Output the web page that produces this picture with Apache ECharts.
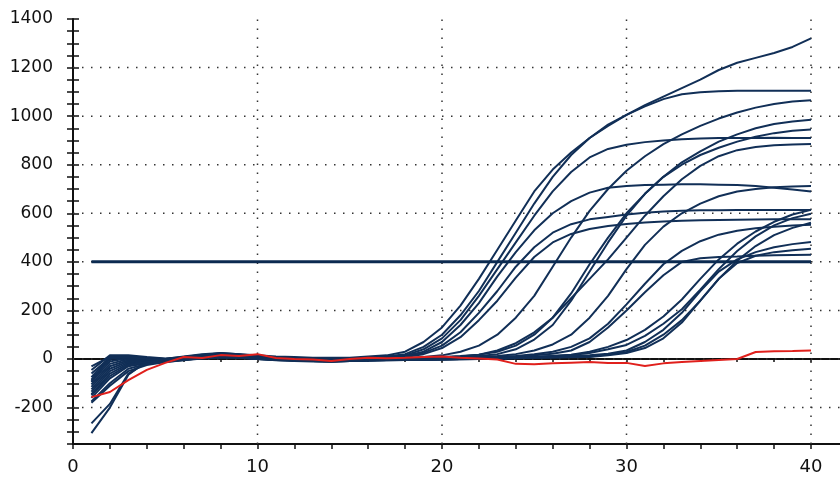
<!DOCTYPE html>
<html>
<head>
<meta charset="utf-8">
<script src="https://cdn.jsdelivr.net/npm/echarts@6/dist/echarts.min.js"></script>
<style>
html, body { margin: 0; padding: 0; background: #fff; }
#chart { width: 840px; height: 479px; }
</style>
</head>
<body>
<div id="chart"></div>
<script>
// cycle numbers (x)
var cycles = [1,2,3,4,5,6,7,8,9,10,11,12,13,14,15,16,17,18,19,20,21,22,23,24,25,26,27,28,29,30,31,32,33,34,35,36,37,38,39,40];
var xTicks = [0, 10, 20, 30, 40];
var yTicks = [-200, 0, 200, 400, 600, 800, 1000, 1200, 1400];
var threshold = 400;

// amplification curves (blue)
var curveA = [-30,10,12,5,0,5,15,25,20,15, 10,8,5,5,5,10,15,30,70,130, 220,330,450,570,690,780,850,910,960,1005, 1045,1080,1115,1150,1190,1220,1240,1260,1285,1320];
var curveB = [-45,15,15,8,2,8,18,22,18,12, 6,4,2,0,2,5,10,20,50,100, 180,280,400,520,640,750,840,910,965,1005, 1040,1070,1090,1098,1102,1105,1105,1105,1105,1105];
var curveC = [-60,5,10,5,0,10,20,25,20,12, 5,2,0,-2,0,5,10,15,40,85, 160,260,370,480,590,690,770,830,865,882, 893,900,905,908,910,910,910,911,910,910];
var curveD = [-75,10,12,2,-2,8,15,20,18,10, 5,0,-2,-5,0,5,8,12,30,70, 140,230,340,440,530,600,650,685,705,712, 716,718,720,720,718,716,712,705,698,690];
var curveE = [-85,0,8,0,-5,5,12,18,15,8, 2,-2,-5,-5,-2,2,5,10,25,55, 110,190,280,380,460,520,555,575,585,595, 602,607,610,612,613,614,614,614,614,614];
var curveF = [-95,-10,5,0,-5,2,10,15,12,5, 0,-5,-8,-5,-2,0,3,8,20,45, 90,160,240,335,420,480,515,535,548,556, 562,566,569,571,572,573,574,575,575,575];
var curveG = [-105,-20,0,-5,-8,0,8,12,10,5, 0,-5,-8,-10,-5,-2,0,3,8,15, 30,55,100,170,260,380,500,610,700,775, 835,885,925,960,990,1015,1035,1050,1060,1065];
var curveM1 = [-115,-30,-5,-8,-5,2,10,15,12,5, 0,-3,-5,-8,-5,-3,0,2,5,8, 12,18,30,55,100,170,270,390,500,600, 680,750,810,855,895,925,950,968,978,985];
var curveM2 = [-125,-40,-10,-10,-5,0,8,12,10,5, 0,-3,-5,-8,-6,-4,-2,0,2,5, 8,12,20,40,80,140,240,360,480,590, 680,750,800,840,870,895,915,930,940,945];
var curveM3 = [-135,-50,-15,-12,-8,0,6,10,8,3, -2,-5,-6,-8,-6,-4,-2,0,3,6, 10,18,35,65,110,170,250,330,410,500, 590,670,740,795,835,860,873,880,883,885];
var curveM4 = [-145,-60,-20,-15,-10,-2,5,10,8,2, -2,-5,-8,-10,-8,-5,-3,-2,0,2, 5,8,12,20,35,60,100,170,260,370, 470,545,600,640,670,690,700,707,710,712];
var curveM5 = [-160,-80,-30,-18,-10,-3,3,8,6,0, -4,-6,-8,-10,-8,-6,-4,-3,-2,0, 2,5,8,12,20,30,50,85,145,225, 310,390,445,485,512,528,538,545,550,553];
var curveL1 = [-180,-110,-50,-25,-12,-4,4,8,6,0, -4,-6,-8,-10,-8,-6,-5,-4,-3,-2, -1,0,2,5,8,12,18,30,50,78, 120,175,245,330,410,475,525,565,595,614];
var curveL2 = [-265,-185,-60,-15,-5,0,6,10,8,2, -2,-4,-6,-8,-6,-4,-3,-2,-2,-1, 0,1,3,5,8,12,16,25,40,58, 95,145,205,285,370,445,505,550,580,598];
var curveL3 = [-305,-200,-65,-10,-2,2,8,12,10,4, 0,-3,-5,-8,-6,-5,-4,-3,-2,-2, -1,0,1,3,5,6,8,10,18,29, 55,100,160,240,330,405,465,510,540,561];
var curveL4 = [-150,-70,-25,-12,-6,0,5,10,8,2, -3,-5,-7,-9,-7,-5,-4,-3,-2,-1, 0,2,4,6,8,10,12,15,22,35, 70,120,190,280,360,410,440,460,473,482];
var curveL5 = [-175,-100,-40,-20,-12,-5,2,6,5,0, -5,-8,-10,-10,-8,-6,-5,-4,-3,-2, 0,2,5,10,15,22,35,70,130,200, 275,345,400,415,420,422,425,427,428,429];
var curveL6 = [-90,5,8,0,-4,3,10,14,12,6, 0,-4,-6,-8,-6,-4,-3,-2,-1,0, 1,2,3,4,5,6,7,8,15,25, 45,85,150,240,330,395,425,440,448,454];
// negative control (red)
var curveNeg = [-157,-136,-87,-45,-16,8,4,16,12,20, 4,0,-2,-8,0,5,3,5,8,10, 5,2,-2,-20,-22,-18,-15,-12,-16,-16, -29,-18,-12,-8,-4,0,29,32,33,35];

var blueCurves = [curveA, curveB, curveC, curveD, curveE, curveF, curveG, curveM1, curveM2, curveM3,
                  curveM4, curveM5, curveL1, curveL2, curveL3, curveL4, curveL5, curveL6];

var NAVY = '#112f57';
var RED = '#e0201c';
var INK = '#111';
var FONT = 'DejaVu Sans';
// x extent runs past the right edge of the picture, as in the original plot
var X_MAX = 44;
var Y_MIN = -350;
var Y_MAX = 1400;

function toPoints(values) {
    return cycles.map(function (c, i) { return [c, values[i]]; });
}

var series = [];
var dotted = { color: '#333', width: 1.5, type: [1.5, 7.5] };

// dotted grid lines
yTicks.forEach(function (v) {
    if (v >= Y_MAX) return;
    series.push({
        type: 'line', data: [[0, v], [X_MAX, v]], showSymbol: false, silent: true,
        lineStyle: dotted
    });
});
xTicks.forEach(function (v) {
    if (v <= 0) return;
    series.push({
        type: 'line', data: [[v, Y_MIN], [v, Y_MAX]], showSymbol: false, silent: true,
        lineStyle: dotted
    });
});

blueCurves.forEach(function (c) {
    series.push({
        type: 'line',
        data: toPoints(c),
        showSymbol: false,
        silent: true,
        lineStyle: { color: NAVY, width: 2 }
    });
});

series.push({
    type: 'line',
    data: toPoints(curveNeg),
    showSymbol: false,
    silent: true,
    lineStyle: { color: RED, width: 2 }
});

// threshold line
series.push({
    type: 'line',
    data: [[cycles[0], threshold], [cycles[cycles.length - 1], threshold]],
    showSymbol: false,
    silent: true,
    lineStyle: { color: '#0b2a50', width: 3 }
});

var tickStyle = { color: INK, width: 1.5 };

function yLabel(v) {
    for (var i = 0; i < yTicks.length; i++) {
        if (Math.abs(v - yTicks[i]) < 1e-6) return String(yTicks[i]);
    }
    return '';
}

echarts.init(document.getElementById('chart')).setOption({
    animation: false,
    backgroundColor: '#fff',
    grid: { left: 73, top: 19, width: 44 * 18.45, height: 425, containLabel: false, outerBoundsMode: 'none' },
    xAxis: [
        {
            // bottom axis: line, labels and the small ticks every 2 cycles
            type: 'value', min: 0, max: X_MAX, interval: 2, position: 'bottom',
            axisLine: { onZero: false, lineStyle: { color: INK, width: 2 } },
            axisTick: { length: 5, lineStyle: tickStyle },
            axisLabel: {
                customValues: xTicks,
                fontSize: 18, fontFamily: FONT, color: INK, margin: 14
            },
            splitLine: { show: false }
        },
        {
            // top border with small inner ticks
            type: 'value', min: 0, max: X_MAX, interval: 2, position: 'top',
            axisLine: { lineStyle: { color: INK, width: 2 } },
            axisTick: { inside: true, length: 3, lineStyle: tickStyle },
            axisLabel: { show: false }, splitLine: { show: false }
        }
    ],
    yAxis: [
        {
            type: 'value', min: Y_MIN, max: Y_MAX, interval: 50, position: 'left',
            axisLine: { show: true, onZero: false, lineStyle: { color: INK, width: 2 } },
            axisTick: { length: 6, lineStyle: tickStyle },
            axisLabel: {
                formatter: yLabel,
                fontSize: 17, fontFamily: FONT, color: INK, margin: 20
            },
            splitLine: { show: false }
        },
        {
            type: 'value', min: Y_MIN, max: Y_MAX, interval: 50, position: 'left',
            axisLine: { show: false },
            axisTick: { inside: true, length: 6, lineStyle: tickStyle },
            axisLabel: { show: false }, splitLine: { show: false }
        }
    ],
    series: series
});
</script>
</body>
</html>
